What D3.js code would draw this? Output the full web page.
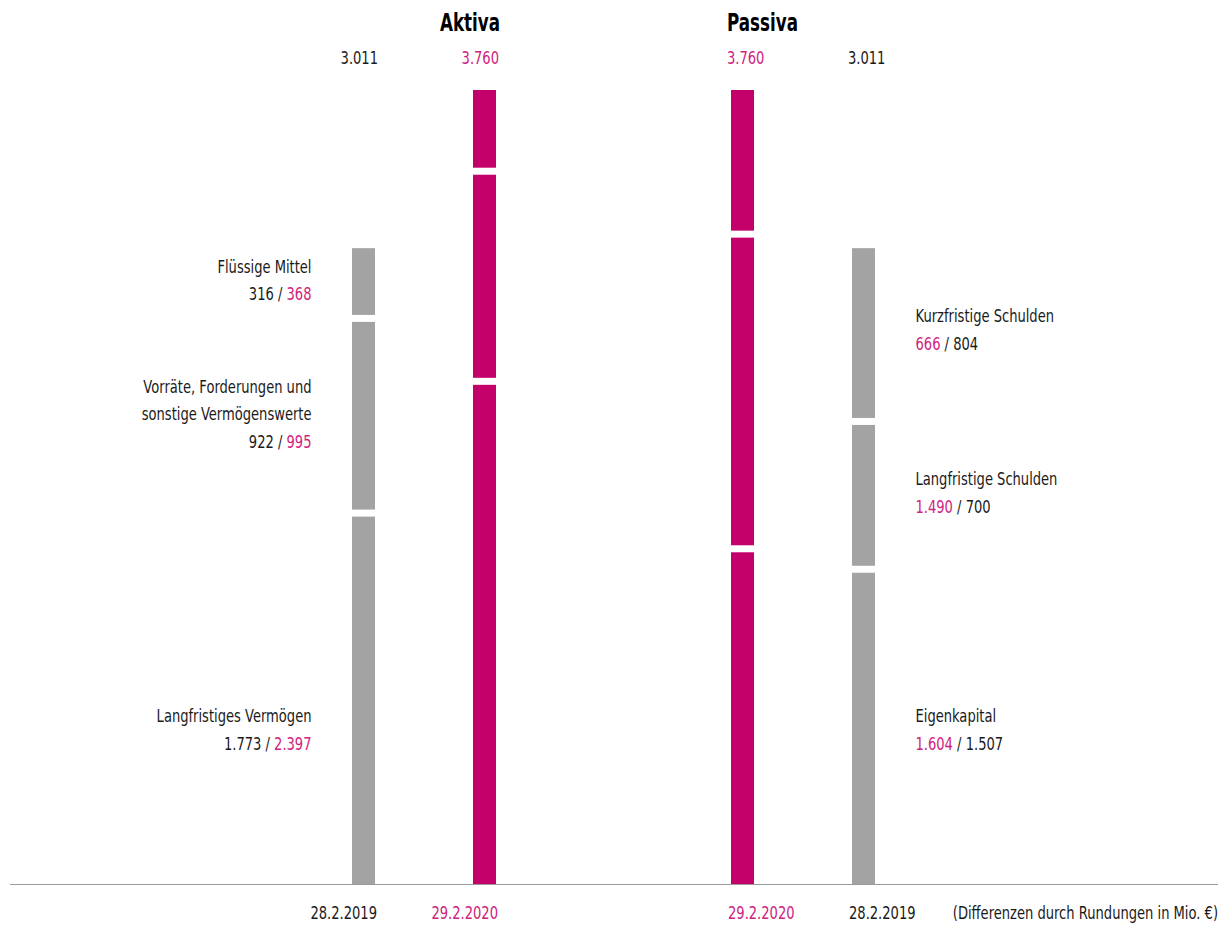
<!DOCTYPE html>
<html>
<head>
<meta charset="utf-8">
<script src="https://cdnjs.cloudflare.com/ajax/libs/d3/7.8.5/d3.min.js"></script>
<style>
  body { margin: 0; background: #fff; }
  text { font-family: "DejaVu Sans", sans-serif; }
</style>
</head>
<body>
<div id="main"></div>
<script>
// Bilanz in Mio. Euro, Reihenfolge von unten nach oben
var aktivaLabels = [["Langfristiges Vermögen"], ["Vorräte, Forderungen und", "sonstige Vermögenswerte"], ["Flüssige Mittel"]];
var aktiva2019 = [1773, 922, 316];
var aktiva2020 = [2397, 995, 368];

var passivaLabels = [["Eigenkapital"], ["Langfristige Schulden"], ["Kurzfristige Schulden"]];
var passiva2019 = [1507, 700, 804];
var passiva2020 = [1604, 1490, 666];

var totals = {"2019": 3011, "2020": 3760};
var dates = {"2019": "28.2.2019", "2020": "29.2.2020"};
var note = "(Differenzen durch Rundungen in Mio. €)";

var grau = "#a3a3a3", magenta = "#c4006b", pink = "#d0227e", schwarz = "#1a1a1a";

var de = d3.formatLocale({decimal: ",", thousands: ".", grouping: [3], currency: ["", " €"]});
var fmt = de.format(",d");

var svg = d3.select("#main").append("svg")
    .attr("width", 1228)
    .attr("height", 927);

var y = d3.scaleLinear().domain([0, 3760]).range([884, 90]);
var xSide = d3.scaleBand().domain(["Aktiva", "Passiva"]).range([234.5, 992.5]);
var xYear = {
  Aktiva: d3.scalePoint().domain(["2019", "2020"]).range([129, 250]),
  Passiva: d3.scalePoint().domain(["2020", "2019"]).range([129, 250])
};
var barW = 23, gap = 7, lineH = 27.5;
var fs = 17, sx = 0.77; // schmale Schrift nachgebildet

function cx(side, year) { return xSide(side) + xYear[side](year); }

// Text in einer horizontal gestauchten Gruppe
function txt(x, yy, anchor, size, scale) {
  return svg.append("g")
      .attr("transform", "translate(" + x + "," + yy + ") scale(" + scale + ",1)")
    .append("text")
      .attr("text-anchor", anchor)
      .attr("font-size", size);
}

var sides = [
  {name: "Aktiva", labels: aktivaLabels, values: {"2019": aktiva2019, "2020": aktiva2020}},
  {name: "Passiva", labels: passivaLabels, values: {"2019": passiva2019, "2020": passiva2020}}
];

// kleine Korrekturen der Beschriftungshöhe
var labelShift = {"Langfristiges Vermögen": 28, "Kurzfristige Schulden": -8, "Langfristige Schulden": -4,
                  "Vorräte, Forderungen und": -3, "Flüssige Mittel": -6};

// Grundlinie
svg.append("line")
    .attr("x1", 10).attr("x2", 1218)
    .attr("y1", y(0) + 0.5).attr("y2", y(0) + 0.5)
    .attr("stroke", "#9a9a9a").attr("stroke-width", 1);

sides.forEach(function(side) {
  var left = side.name === "Aktiva";

  ["2019", "2020"].forEach(function(year) {
    var vals = side.values[year];
    var stack = [];
    var cum = 0;
    vals.forEach(function(v, i) {
      stack.push({y0: cum, y1: cum + v, i: i});
      cum += v;
    });
    var x = cx(side.name, year);
    // weisse Fuge jeweils oben an den unteren Segmenten
    svg.append("g").selectAll("rect")
      .data(stack)
      .join("rect")
        .attr("x", x - barW / 2)
        .attr("width", barW)
        .attr("y", d => y(d.y1) + (d.i === vals.length - 1 ? 0 : gap))
        .attr("height", d => y(d.y0) - y(d.y1) - (d.i === vals.length - 1 ? 0 : gap))
        .attr("fill", year === "2019" ? grau : magenta);

    // Summe oben
    txt(left ? x + barW / 2 + 3 : x - barW / 2 - 4, 64, left ? "end" : "start", fs, sx)
        .attr("fill", year === "2019" ? schwarz : pink)
        .text(fmt(totals[year]));

    // Datum unten
    txt(left ? x + barW / 2 + 2 : x - barW / 2 - 3, 919, left ? "end" : "start", fs, sx)
        .attr("fill", year === "2019" ? schwarz : pink)
        .text(dates[year]);
  });

  // Titel
  var xm = cx(side.name, "2020");
  txt(left ? xm + barW / 2 + 4 : xm - barW / 2 - 4, 31, left ? "end" : "start", 25, 0.67)
      .attr("font-weight", "bold")
      .attr("fill", "#000")
      .text(side.name);

  // Beschriftungen an den grauen Balken
  var gx = cx(side.name, "2019");
  var lx = left ? gx - 52 : gx + 52;
  var cum = 0;
  side.labels.forEach(function(lines, i) {
    var v19 = side.values["2019"][i], v20 = side.values["2020"][i];
    var center = (y(cum) + y(cum + v19)) / 2;
    cum += v19;
    var n = lines.length + 1;
    var first = center - (n - 1) * lineH / 2 + 11 + (labelShift[lines[0]] || 0);
    var t = txt(lx, first, left ? "end" : "start", fs, sx).attr("fill", schwarz);
    lines.forEach(function(l, k) {
      t.append("tspan").attr("x", 0).attr("y", k * lineH).text(l);
    });
    var last = t.append("tspan").attr("x", 0).attr("y", lines.length * lineH);
    var a = left ? [v19, v20] : [v20, v19];
    var c = left ? [schwarz, pink] : [pink, schwarz];
    last.append("tspan").attr("fill", c[0]).text(fmt(a[0]));
    last.append("tspan").attr("fill", schwarz).text(" / ");
    last.append("tspan").attr("fill", c[1]).text(fmt(a[1]));
  });
});

txt(1218, 919, "end", fs, sx)
    .attr("fill", schwarz)
    .text(note);
</script>
</body>
</html>
